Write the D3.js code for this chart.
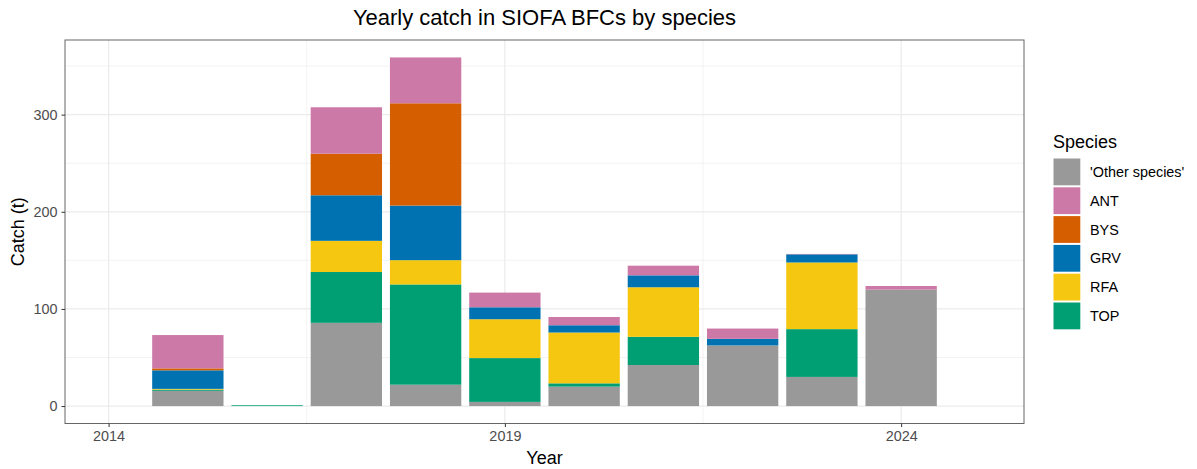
<!DOCTYPE html>
<html>
<head>
<meta charset="utf-8">
<script src="https://cdn.jsdelivr.net/npm/d3@7"></script>
<style>
  html, body { margin: 0; padding: 0; background: #fff; }
  svg { display: block; font-family: "Liberation Sans", Arial, sans-serif; }
</style>
</head>
<body>
<svg id="chart" width="1197" height="469"></svg>
<script>
// ---- data ----
const years = [2015, 2016, 2017, 2018, 2019, 2020, 2021, 2022, 2023, 2024];
const speciesOrder = ["'Other species'", "ANT", "BYS", "GRV", "RFA", "TOP"]; // legend order
const stackOrder = ["'Other species'", "TOP", "RFA", "GRV", "BYS", "ANT"];  // bottom to top
const otherSpecies = [15.7, 0, 85.7, 22.0, 4.3, 20.0, 42.3, 62.4, 30.0, 119.8];
const TOP = [1.2, 0.8, 52.3, 103.2, 45.1, 3.4, 29.0, 0, 49.2, 0];
const RFA = [0.8, 0, 32.1, 25.0, 40.0, 52.3, 51.0, 0, 68.6, 0];
const GRV = [19.1, 0, 46.9, 56.2, 12.3, 7.5, 12.3, 6.8, 8.4, 0];
const BYS = [2.0, 0, 42.8, 105.3, 0, 0, 0, 0, 0, 0];
const ANT = [34.3, 0, 47.8, 47.2, 15.1, 8.5, 9.9, 10.6, 0.4, 3.8];
const xTicks = [2014, 2019, 2024];
const yTicks = [0, 100, 200, 300];
const colors = {
  "'Other species'": "#999999", "ANT": "#CC79A7", "BYS": "#D55E00",
  "GRV": "#0072B2", "RFA": "#F5C710", "TOP": "#009E73"
};
const seriesMap = { "'Other species'": otherSpecies, TOP, RFA, GRV, BYS, ANT };

// ---- build table ----
const rows = years.map((y, i) => {
  const r = { year: y };
  stackOrder.forEach(k => r[k] = seriesMap[k][i]);
  return r;
});
const stacked = d3.stack().keys(stackOrder)(rows);
const maxTotal = d3.max(rows, r => d3.sum(stackOrder, k => r[k]));

// ---- layout ----
const svg = d3.select("#chart");
const P = { left: 65, right: 1024, top: 40, bottom: 423.5 };
const x = d3.scaleLinear().domain([2013.45, 2025.55]).range([P.left, P.right]);
const y = d3.scaleLinear().domain([-0.05 * maxTotal, 1.05 * maxTotal]).range([P.bottom, P.top]);
const barW = 0.9;

// panel bg
svg.append("rect").attr("x", P.left).attr("y", P.top)
  .attr("width", P.right - P.left).attr("height", P.bottom - P.top).attr("fill", "#fff");

// minor grid
const g = svg.append("g");
[50, 150, 250, 350].forEach(v => {
  g.append("line").attr("x1", P.left).attr("x2", P.right).attr("y1", y(v)).attr("y2", y(v))
    .attr("stroke", "#EBEBEB").attr("stroke-width", 0.6);
});
[2016.5, 2021.5].forEach(v => {
  g.append("line").attr("y1", P.top).attr("y2", P.bottom).attr("x1", x(v)).attr("x2", x(v))
    .attr("stroke", "#EBEBEB").attr("stroke-width", 0.6);
});
// major grid
yTicks.forEach(v => {
  g.append("line").attr("x1", P.left).attr("x2", P.right).attr("y1", y(v)).attr("y2", y(v))
    .attr("stroke", "#EBEBEB").attr("stroke-width", 1.2);
});
xTicks.forEach(v => {
  g.append("line").attr("y1", P.top).attr("y2", P.bottom).attr("x1", x(v)).attr("x2", x(v))
    .attr("stroke", "#EBEBEB").attr("stroke-width", 1.2);
});

// bars
svg.append("g").selectAll("g").data(stacked).join("g")
  .attr("fill", d => colors[d.key])
  .selectAll("rect").data(d => d).join("rect")
  .attr("x", d => x(d.data.year - barW / 2))
  .attr("width", d => x(d.data.year + barW / 2) - x(d.data.year - barW / 2))
  .attr("y", d => y(d[1]))
  .attr("height", d => Math.max(0, y(d[0]) - y(d[1])));

// panel border
svg.append("rect").attr("x", P.left).attr("y", P.top)
  .attr("width", P.right - P.left).attr("height", P.bottom - P.top)
  .attr("fill", "none").attr("stroke", "#333333").attr("stroke-width", 1).attr("stroke-opacity", 0.75);

// axes
const xAxis = d3.axisBottom(x).tickValues(xTicks).tickFormat(d3.format("d")).tickSize(3.5).tickPadding(4);
const yAxis = d3.axisLeft(y).tickValues(yTicks).tickFormat(d3.format("d")).tickSize(3.5).tickPadding(4);
const gx = svg.append("g").attr("transform", `translate(0,${P.bottom})`).call(xAxis);
const gy = svg.append("g").attr("transform", `translate(${P.left},0)`).call(yAxis);
[gx, gy].forEach(a => {
  a.select(".domain").remove();
  a.selectAll(".tick line").attr("stroke", "#333333");
  a.selectAll(".tick text").attr("fill", "#4D4D4D").style("font-size", "14.4px")
    .style("font-family", "'Liberation Sans', Arial, sans-serif");
});

// titles
svg.append("text").attr("x", (P.left + P.right) / 2).attr("y", 25).attr("text-anchor", "middle")
  .style("font-size", "22px").attr("fill", "#000").text("Yearly catch in SIOFA BFCs by species");
svg.append("text").attr("x", (P.left + P.right) / 2).attr("y", 464).attr("text-anchor", "middle")
  .style("font-size", "18px").attr("fill", "#000").text("Year");
svg.append("text").attr("transform", `translate(24,${(P.top + P.bottom) / 2}) rotate(-90)`)
  .attr("text-anchor", "middle").style("font-size", "18px").attr("fill", "#000").text("Catch (t)");

// legend
const lg = svg.append("g").attr("transform", "translate(1053,0)");
lg.append("text").attr("x", 0).attr("y", 148).style("font-size", "18px").attr("fill", "#000").text("Species");
speciesOrder.forEach((k, i) => {
  const ky = 158.5 + i * 28.8;
  lg.append("rect").attr("x", 0.5).attr("y", ky).attr("width", 26.8).attr("height", 26.8)
    .attr("fill", colors[k]);
  lg.append("text").attr("x", 37).attr("y", ky + 13.4).attr("dy", "0.35em")
    .style("font-size", "14.4px").attr("fill", "#000").text(k);
});
</script>
</body>
</html>
